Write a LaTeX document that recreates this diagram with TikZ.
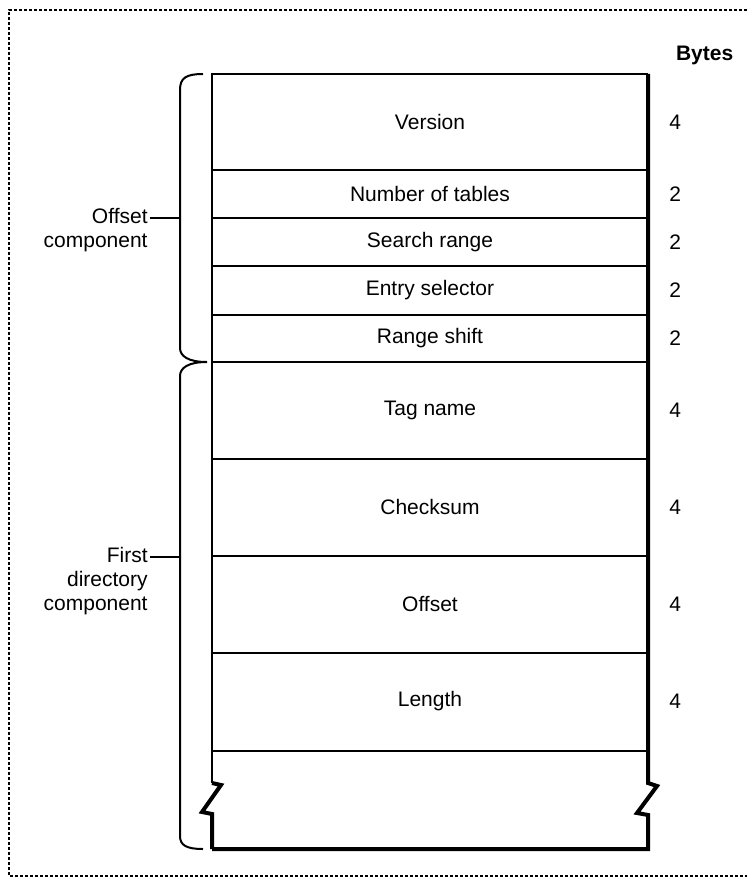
\documentclass[tikz,border=0pt]{standalone}
\usepackage{fontspec}
\setmainfont{Liberation Sans}
\usetikzlibrary{positioning}

\begin{document}
\begin{tikzpicture}[x=0.5pt, y=-0.5pt,
    field/.style={font=\fontsize{10.5}{12}\selectfont, inner sep=1pt},
    nbytes/.style={font=\fontsize{10.5}{12}\selectfont, anchor=west, inner sep=1pt},
    side/.style={font=\fontsize{10.5}{12}\selectfont, align=right, anchor=base east, inner sep=1pt},
    rule/.style={line width=1pt},
    heavy/.style={line width=2pt}]
  \useasboundingbox (0,0) rectangle (747,883);
  % dotted frame
  \draw[line width=0.6pt, dash pattern=on 1.5pt off 1pt]
    (747,10) -- (9,10) -- (9,876) -- (747,876);
  % table outline with breaks
  \draw[rule] (212,783) -- (212,74) -- (648,74);
  \draw[heavy, line join=miter] (212,783) -- (221,785) -- (202,812) -- (212,814) -- (212,849);
  \draw[heavy, line join=miter] (648,74) -- (648,783) -- (657,786) -- (637,813)
    -- (648,815) -- (648,849) -- (212,849);
  \foreach \y in {170,218,266,315,362,459,556,653,751}
    \draw[rule] (212,\y) -- (648,\y);
  % fields and sizes
  \node[font=\fontsize{10.5}{12}\selectfont\bfseries, anchor=west] (bytes) at (669,55) {Bytes};
  \foreach \y/\name/\n/\txt in {122/vers/4/Version, 194/ntab/2/Number of tables,
      242/srange/2/Search range, 290/esel/2/Entry selector, 338/rshift/2/Range shift,
      410/tag/4/Tag name, 507/csum/4/Checksum, 604/offs/4/Offset, 701/len/4/Length}
  {
    \node[field] (\name) at (430,\y) {\txt};
    \node[nbytes] (\name-n) at (667,\y) {\n};
  }
  % braces
  \draw[rule] (203,74) .. controls (186,74) and (180,78) .. (180,90) -- (180,348)
    .. controls (180,356) and (188,362) .. (207,362)
    .. controls (188,362) and (180,368) .. (180,376) -- (180,836)
    .. controls (180,845) and (186,849) .. (203,849);
  \coordinate (offtip) at (180,218);
  \coordinate (dirtip) at (180,557);
  \node[side] (offlbl) at (150,247) {Offset\\component};
  \node[side] (dirlbl) at (150,610) {First\\directory\\component};
  \draw[rule] (offlbl.east |- offtip) -- (offtip);
  \draw[rule] (dirlbl.east |- dirtip) -- (dirtip);
\end{tikzpicture}
\end{document}
